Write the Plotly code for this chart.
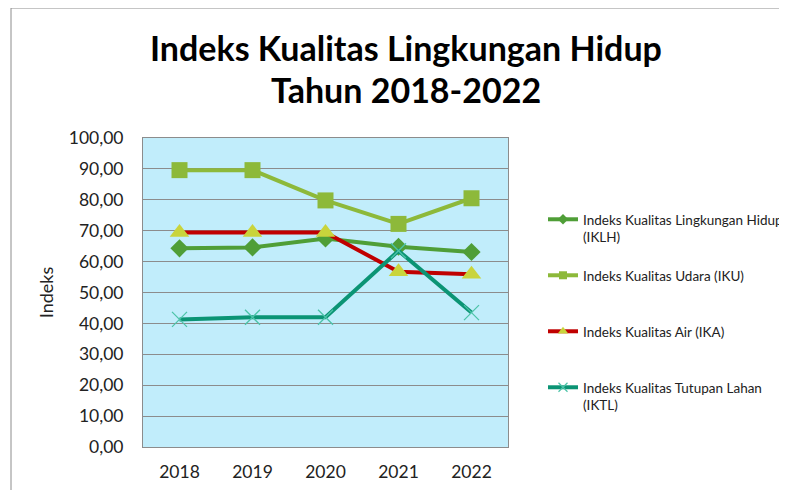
import plotly.graph_objects as go

years = ["2018", "2019", "2020", "2021", "2022"]
iklh = [64.3, 64.6, 67.5, 64.8, 63.1]
iku = [89.6, 89.6, 79.8, 72.2, 80.5]
ika = [69.4, 69.4, 69.4, 56.7, 55.9]
iktl = [41.3, 42.0, 42.0, 63.5, 43.5]
names = ["Indeks Kualitas Lingkungan Hidup<br>(IKLH)",
         "Indeks Kualitas Udara (IKU)",
         "Indeks Kualitas Air (IKA)",
         "Indeks Kualitas Tutupan Lahan<br>(IKTL)"]
title_lines = ["Indeks Kualitas Lingkungan Hidup", "Tahun 2018-2022"]
y_ticks = [0, 10, 20, 30, 40, 50, 60, 70, 80, 90, 100]
y_tick_labels = ["0,00", "10,00", "20,00", "30,00", "40,00", "50,00",
                 "60,00", "70,00", "80,00", "90,00", "100,00"]

FONT = "Lato"
series = [iklh, iku, ika, iktl]
styles = [
    dict(line="#4F9E37", mk="#4F9E37", sym="diamond", size=14, lsize=8),
    dict(line="#8DB93A", mk="#8DB93A", sym="square", size=16, lsize=8),
    dict(line="#C00000", mk="#C9D43C", sym="triangle-up", size=17, lsize=9),
    dict(line="#0B9474", mk="#4CC3A8", sym="x-thin-open", size=15, lsize=9),
]
L, T, W, H = 135, 130, 365, 309
legend_tops = [196, 252, 308, 364]  # px from top of figure

fig = go.Figure()
for i, (vals, st) in enumerate(zip(series, styles)):
    mline = dict(width=1.3, color=st["mk"]) if "thin" in st["sym"] else dict(width=0)
    fig.add_trace(go.Scatter(x=years, y=vals, name=names[i], mode="lines+markers",
                             showlegend=False,
                             line=dict(color=st["line"], width=4),
                             marker=dict(symbol=st["sym"], size=st["size"], color=st["mk"], line=mline)))
legends = {}
for i, st in enumerate(styles):
    mline = dict(width=1.2, color=st["mk"]) if "thin" in st["sym"] else dict(width=0)
    lname = "legend" if i == 0 else f"legend{i + 1}"
    fig.add_trace(go.Scatter(x=[None], y=[None], name=names[i], legend=lname, mode="lines+markers",
                             line=dict(color=st["line"], width=4),
                             marker=dict(symbol=st["sym"], size=st["lsize"], color=st["mk"], line=mline)))
    legends[lname] = dict(x=(535 - L) / W, xanchor="left", y=(T + H - legend_tops[i]) / H, yanchor="top",
                          font=dict(size=13.5, family=FONT, color="#222"), valign="top",
                          bgcolor="rgba(0,0,0,0)")

fig.update_layout(
    width=787, height=490,
    margin=dict(l=L, r=787 - L - W, t=T, b=490 - T - H, autoexpand=False),
    paper_bgcolor="white", plot_bgcolor="#C1EDFB",
    font=dict(family=FONT, color="#222"),
    xaxis=dict(type="category", range=[-0.5, 4.5], showgrid=False, showline=True,
               linecolor="#8c8c8c", linewidth=1, mirror=True, ticks="",
               tickfont=dict(size=17.5, family=FONT, color="#222"), ticklabelstandoff=9),
    yaxis=dict(range=[0, 100], tickvals=y_ticks, ticktext=y_tick_labels,
               showgrid=True, gridcolor="#8c8c8c", gridwidth=1, showline=True,
               linecolor="#8c8c8c", mirror=True, zeroline=False, ticks="",
               tickfont=dict(size=17.5, family=FONT, color="#222"), ticklabelstandoff=15,
               title=dict(text="Indeks", font=dict(size=18, family=FONT, color="#222"), standoff=10)),
    showlegend=True,
    **legends,
)
for txt, yc in zip(title_lines, [39, 81]):
    fig.add_annotation(text=f"<b>{txt}</b>", xref="paper", yref="paper",
                       x=(398 - L) / W, y=(T + H - yc) / H, xanchor="center", yanchor="middle",
                       showarrow=False, font=dict(family=FONT, size=34, color="black"))
fig.add_shape(type="rect", xref="paper", yref="paper",
              x0=(3 - L) / W, x1=(800 - L) / W, y0=(T + H - 500) / H, y1=(T + H - 0) / H,
              line=dict(color="#8c8c8c", width=1), layer="below")
fig.write_html("out.html")
